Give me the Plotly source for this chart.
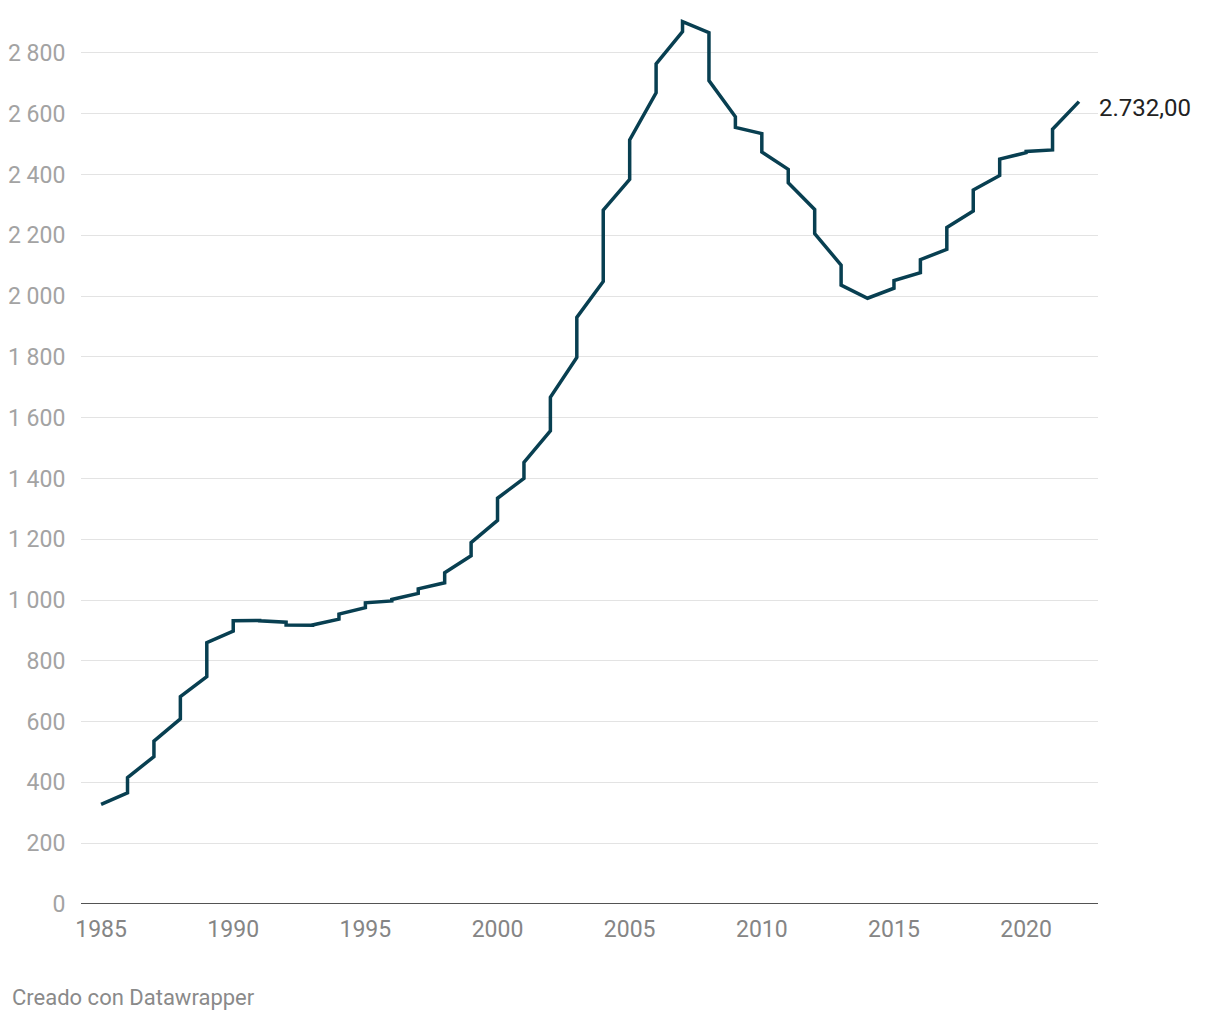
import plotly.graph_objects as go

# Each year: value at the start of the year and value at the end of the year
years = list(range(1985, 2022))
start_vals = [328, 416, 536, 682, 860, 932, 932, 918, 918, 954,
              991, 1002, 1037, 1090, 1189, 1335, 1453, 1667, 1930, 2283,
              2514, 2764, 2903, 2709, 2555, 2474, 2373, 2206, 2036, 1993,
              2051, 2120, 2226, 2349, 2451, 2476, 2549]
end_vals = [366, 485, 609, 748, 898, 933, 927, 917, 937, 975,
            997, 1022, 1057, 1146, 1262, 1400, 1557, 1798, 2048, 2384,
            2669, 2870, 2867, 2590, 2535, 2417, 2285, 2102, 1993, 2026,
            2077, 2154, 2280, 2397, 2472, 2481, 2640]
x_ticks = [1985, 1990, 1995, 2000, 2005, 2010, 2015, 2020]
y_ticks = list(range(0, 2801, 200))
y_ticktext = ["0", "200", "400", "600", "800", "1 000", "1 200",
              "1 400", "1 600", "1 800", "2 000",
              "2 200", "2 400", "2 600", "2 800"]
last_label = "2.732,00"
footer = "Creado con Datawrapper"

xs, ys = [], []
for yr, a, b in zip(years, start_vals, end_vals):
    xs += [yr, yr + 1]
    ys += [a, b]

LINE = "#083f51"
W, H = 1212, 1012
L, R, T, B = 73, 122, 0, 116
PW, PH = W - L - R, H - T - B

fig = go.Figure()
fig.add_trace(go.Scatter(x=xs, y=ys, mode="lines",
                         line=dict(color=LINE, width=3.5),
                         hoverinfo="skip", showlegend=False))

fig.update_layout(
    width=W, height=H,
    margin=dict(l=L, r=R, t=T, b=B, pad=0),
    plot_bgcolor="white", paper_bgcolor="white",
    font=dict(family="Roboto, sans-serif"),
    xaxis=dict(range=[1984.24, 2022.72], tickvals=x_ticks, showgrid=False,
               zeroline=False, showline=False,
               ticks="outside", ticklen=4, tickcolor="rgba(0,0,0,0)",
               tickfont=dict(size=23, color="#858585")),
    yaxis=dict(range=[0, 2948], tickvals=y_ticks, ticktext=y_ticktext,
               showgrid=True, gridcolor="#e3e3e3", gridwidth=1,
               zeroline=False, showline=False,
               ticks="outside", ticklen=10, tickcolor="rgba(0,0,0,0)",
               tickfont=dict(size=23, color="#a3a3a3")),
    shapes=[dict(type="line", xref="paper", yref="y", x0=0, x1=1, y0=0, y1=0,
                 line=dict(color="#1a1a1a", width=1.5))],
    annotations=[
        dict(x=years[-1] + 1, y=end_vals[-1], xref="x", yref="y",
             text=last_label, showarrow=False, xanchor="left", yanchor="middle",
             xshift=18, yshift=-6, font=dict(size=24, color="#222222")),
        dict(x=(2 - L) / PW, y=(PH - 989) / PH, xref="paper", yref="paper",
             text=footer, showarrow=False, xanchor="left", yanchor="middle",
             font=dict(size=22, color="#8a8a8a")),
    ],
)

fig.write_html("out.html")
